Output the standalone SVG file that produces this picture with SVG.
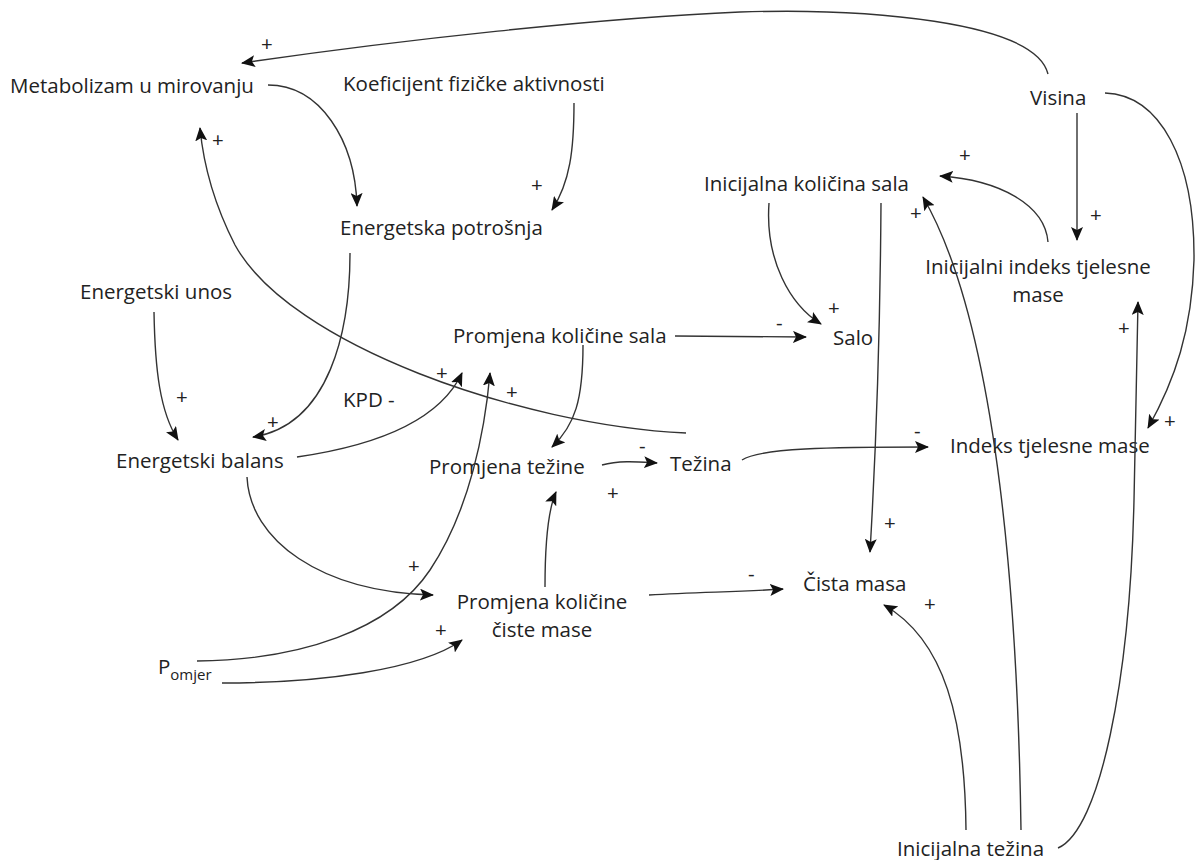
<svg xmlns="http://www.w3.org/2000/svg" width="1196" height="860" viewBox="0 0 1196 860">
<style>
text{font-family:"Open Sans","Noto Sans",sans-serif;font-size:20.5px;fill:#222}
.s{font-size:15px}
.p{font-size:18px}
.c path{fill:none;stroke:#333;stroke-width:1.4;marker-end:url(#a)}
</style>
<defs>
<marker id="a" markerUnits="userSpaceOnUse" markerWidth="14" markerHeight="12" viewBox="0 0 14 12" refX="13" refY="6" orient="auto"><path d="M0,0 L14,6 L0,12 L3,6 Z" fill="#111"/></marker>
</defs>
<rect width="1196" height="860" fill="#fff"/>
<g id="n1"><text x="10" y="93">Metabolizam u mirovanju</text></g>
<g id="n2"><text x="343" y="91">Koeficijent fizičke aktivnosti</text></g>
<g id="n3"><text x="1030" y="105">Visina</text></g>
<g id="n4"><text x="704" y="191">Inicijalna količina sala</text></g>
<g id="n5"><text x="340" y="235">Energetska potrošnja</text></g>
<g id="n6"><text x="1038" y="274" text-anchor="middle">Inicijalni indeks tjelesne</text><text x="1038" y="302" text-anchor="middle">mase</text></g>
<g id="n7"><text x="80" y="299">Energetski unos</text></g>
<g id="n8"><text x="453" y="343">Promjena količine sala</text></g>
<g id="n9"><text x="833" y="345">Salo</text></g>
<g id="n10"><text x="343" y="407">KPD -</text></g>
<g id="n11"><text x="116" y="468">Energetski balans</text></g>
<g id="n12"><text x="429" y="474">Promjena težine</text></g>
<g id="n13"><text x="670" y="471">Težina</text></g>
<g id="n14"><text x="950" y="453">Indeks tjelesne mase</text></g>
<g id="n15"><text x="542" y="609" text-anchor="middle">Promjena količine</text><text x="542" y="637" text-anchor="middle">čiste mase</text></g>
<g id="n16"><text x="803" y="591">Čista masa</text></g>
<g id="n17"><text x="158" y="674">P<tspan class="s" dy="6">omjer</tspan></text></g>
<g id="n18"><text x="897" y="856">Inicijalna težina</text></g>
<g id="connectors" class="c">
<path d="M1048,74 C1035,20 860,8 740,12 C600,18 400,40 242,63"/>
<path d="M268,85 C320,85 355,140 357,206"/>
<path d="M574,103 C574,150 570,182 552,210"/>
<path d="M350,253 C350,330 330,425 253,437"/>
<path d="M154,312 C155,370 160,412 178,440"/>
<path d="M686,433 C520,425 290,345 235,245 C212,200 203,160 200,128"/>
<path d="M297,457 C380,445 440,420 462,373"/>
<path d="M197,661 C300,660 390,630 430,570 C470,510 485,430 490,373"/>
<path d="M222,683 C320,683 420,670 462,640"/>
<path d="M247,477 C250,540 320,592 433,595"/>
<path d="M675,336 L806,337"/>
<path d="M583,345 C583,400 575,425 552,447"/>
<path d="M602,465 C620,460 640,462 657,463"/>
<path d="M545,587 C545,540 548,510 556,492"/>
<path d="M649,595 C700,592 740,592 783,589"/>
<path d="M742,460 C760,448 830,447 928,447"/>
<path d="M769,203 C765,260 790,305 821,324"/>
<path d="M881,203 C880,350 876,450 870,552"/>
<path d="M1048,242 C1045,205 1000,180 940,176"/>
<path d="M1077,113 L1077,240"/>
<path d="M1105,93 C1160,95 1195,160 1194,260 C1192,330 1175,380 1148,428"/>
<path d="M966,830 C965,720 945,640 884,605"/>
<path d="M1021,830 C1018,620 1000,330 923,197"/>
<path d="M1058,848 C1100,830 1130,680 1134,500 C1136,420 1137,350 1138,302"/>
</g>
<g id="labels" class="p">
<text x="261" y="51">+</text>
<text x="212" y="147">+</text>
<text x="531" y="192">+</text>
<text x="267" y="429">+</text>
<text x="176" y="404">+</text>
<text x="436" y="380">+</text>
<text x="506" y="399">+</text>
<text x="408" y="573">+</text>
<text x="435" y="637">+</text>
<text x="776" y="330">-</text>
<text x="639" y="453">-</text>
<text x="607" y="500">+</text>
<text x="748" y="581">-</text>
<text x="914" y="438">-</text>
<text x="828" y="315">+</text>
<text x="884" y="530">+</text>
<text x="959" y="162">+</text>
<text x="1090" y="222">+</text>
<text x="1164" y="428">+</text>
<text x="924" y="611">+</text>
<text x="910" y="220">+</text>
<text x="1118" y="335">+</text>
</g>
</svg>
